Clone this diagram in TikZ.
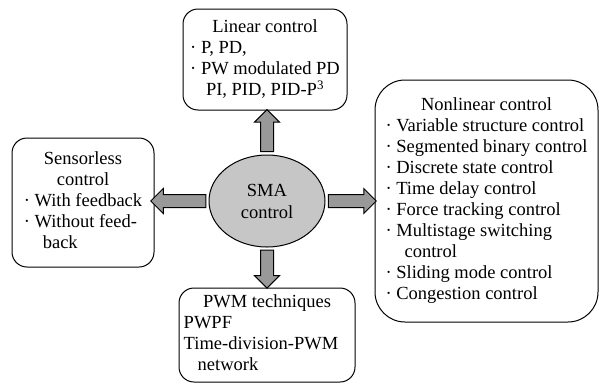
\documentclass[tikz,border=0pt]{standalone}
\usepackage{fontspec}
\setmainfont{Liberation Serif}
\usetikzlibrary{shapes.geometric,shapes.arrows}

\newcommand{\ctr}[1]{\multicolumn{1}{@{}c@{}}{#1}}

\begin{document}
\begin{tikzpicture}[x=1pt,y=-1pt,
  box/.style={draw,rounded corners=15pt,line width=1pt,inner sep=0pt,font=\fontsize{18.5}{21}\selectfont},
  hub/.style={ellipse,draw,fill=gray!45,line width=1pt,inner sep=0pt,minimum width=116pt,minimum height=92pt,align=center,font=\fontsize{18.5}{22}\selectfont},
  fatarrow/.style={single arrow,draw,fill=gray!80,line width=1pt,inner sep=6pt,single arrow head extend=6pt,sloped,allow upside down}]
\useasboundingbox (0,0) rectangle (599,383);

\node[hub] (sma) at (267,201) {SMA\\control};

\node[box,minimum width=164pt,minimum height=101pt] (lin) at (265,59.5) {\begin{tabular}{@{}l@{}}
\ctr{Linear control}\\
· P, PD,\\
· PW modulated PD\\
\ctr{PI, PID, PID-P\textsuperscript{3}}
\end{tabular}};
\node[box,minimum width=142pt,minimum height=129pt] (sen) at (83,202.5) {\begin{tabular}{@{}l@{}}
\ctr{Sensorless}\\
\ctr{control}\\
· With feedback\\
· Without feed-\\
\hspace{19pt}back
\end{tabular}};
\node[box,rounded corners=30pt,minimum width=223pt,minimum height=242pt] (nonlin) at (486.5,201) {\begin{tabular}{@{}l@{}}
\ctr{Nonlinear control}\\
· Variable structure control\\
· Segmented binary control\\
· Discrete state control\\
· Time delay control\\
· Force tracking control\\
· Multistage switching\\
\hspace{19pt}control\\
· Sliding mode control\\
· Congestion control
\end{tabular}};
\node[box,minimum width=176pt,minimum height=94pt] (pwm) at (267,335) {\begin{tabular}{@{}l@{\hspace{12pt}}}
\ctr{PWM techniques}\\
PWPF\\
Time-division-PWM\\
\hspace{14pt}network
\end{tabular}};

\path (sma.north) -- (sma.north |- lin.south) node[fatarrow,pos=.47,minimum height=42pt] {};
\path (sma.west) -- (sma.west -| sen.east) node[fatarrow,midway,minimum height=55pt] {};
\path (sma.east) -- (sma.east -| nonlin.west) node[fatarrow,pos=.48,minimum height=48pt] {};
\path (sma.south) -- (sma.south |- pwm.north) node[fatarrow,pos=.46,minimum height=38pt] {};
\end{tikzpicture}
\end{document}
